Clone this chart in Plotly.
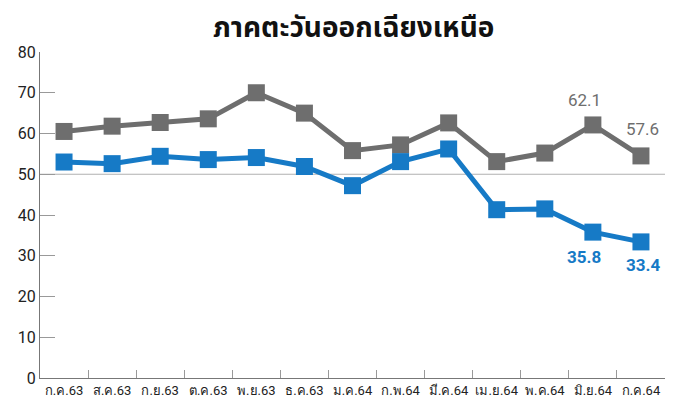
import plotly.graph_objects as go

months = ["ก.ค.63", "ส.ค.63", "ก.ย.63", "ต.ค.63", "พ.ย.63", "ธ.ค.63", "ม.ค.64",
          "ก.พ.64", "มี.ค.64", "เม.ย.64", "พ.ค.64", "มิ.ย.64", "ก.ค.64"]
gray_vals = [60.5, 61.8, 62.7, 63.6, 70.0, 65.0, 55.8, 57.2, 62.6, 53.1, 55.2, 62.1, 54.5]
blue_vals = [53.0, 52.6, 54.4, 53.6, 54.1, 51.9, 47.2, 53.1, 56.2, 41.3, 41.5, 35.8, 33.4]
gray_labels = {11: "62.1", 12: "57.6"}
blue_labels = {11: "35.8", 12: "33.4"}
y_ticks = [0, 10, 20, 30, 40, 50, 60, 70, 80]
title = "ภาคตะวันออกเฉียงเหนือ"

GRAY = "#6e6e6e"
BLUE = "#167ac6"
NARROW = "Liberation Sans Narrow, Roboto, sans-serif"
idx = list(range(len(months)))

fig = go.Figure()
fig.add_trace(go.Scatter(x=idx, y=gray_vals, mode="lines+markers",
                         line=dict(color=GRAY, width=5),
                         marker=dict(symbol="square", size=17, color=GRAY)))
fig.add_trace(go.Scatter(x=idx, y=blue_vals, mode="lines+markers",
                         line=dict(color=BLUE, width=5),
                         marker=dict(symbol="square", size=17, color=BLUE)))
# invisible trace for second x axis tick marks
fig.add_trace(go.Scatter(x=[i + 0.5 for i in idx], y=[None] * len(idx), xaxis="x2",
                         mode="markers", showlegend=False, hoverinfo="skip"))

fig.add_shape(type="line", xref="paper", x0=0, x1=1, yref="y", y0=50, y1=50,
              line=dict(color="#b0b0b0", width=1.2), layer="below")

anns = []
offsets_g = {11: (-8, 25), 12: (2, 27)}
offsets_b = {11: (-9, -25), 12: (2, -23)}
for i, t in gray_labels.items():
    anns.append(dict(x=i, y=gray_vals[i], text=t, showarrow=False,
                     xshift=offsets_g[i][0], yshift=offsets_g[i][1],
                     font=dict(size=17, color=GRAY, family=NARROW)))
for i, t in blue_labels.items():
    anns.append(dict(x=i, y=blue_vals[i], text="<b>" + t + "</b>", showarrow=False,
                     xshift=offsets_b[i][0], yshift=offsets_b[i][1],
                     font=dict(size=17, color=BLUE, family=NARROW)))
anns.append(dict(x=0.502, y=1.0, xref="paper", yref="paper", yanchor="bottom", yshift=0,
                 text="<b>" + title + "</b>", showarrow=False,
                 font=dict(size=28, color="#111111", family="Noto Sans Thai, Noto Sans, sans-serif")))

fig.update_layout(
    template="none",
    width=667, height=392,
    margin=dict(l=32, r=10, t=44, b=22),
    paper_bgcolor="white", plot_bgcolor="white",
    showlegend=False,
    annotations=anns,
    xaxis=dict(range=[-0.5, 12.5], tickmode="array", tickvals=idx, ticktext=months,
               automargin=False,
               showgrid=False, zeroline=False, showline=True, linecolor="#777777", linewidth=1,
               ticks="", tickfont=dict(size=13, color="#222222", family=NARROW)),
    xaxis2=dict(range=[-0.5, 12.5], overlaying="x", anchor="y", side="bottom",
                tickmode="array", tickvals=[i + 0.5 for i in idx], showticklabels=False,
                ticks="inside", ticklen=8, tickcolor="#999999", showgrid=False,
                zeroline=False, showline=False, automargin=False),
    yaxis=dict(range=[0, 80], tickmode="array", tickvals=y_ticks, automargin=False,
               showgrid=False, zeroline=False, showline=True, linecolor="#777777", linewidth=1,
               ticks="inside", ticklen=15, tickcolor="#999999",
               tickfont=dict(size=16, color="#222222", family=NARROW)),
)

fig.write_html("out.html")
